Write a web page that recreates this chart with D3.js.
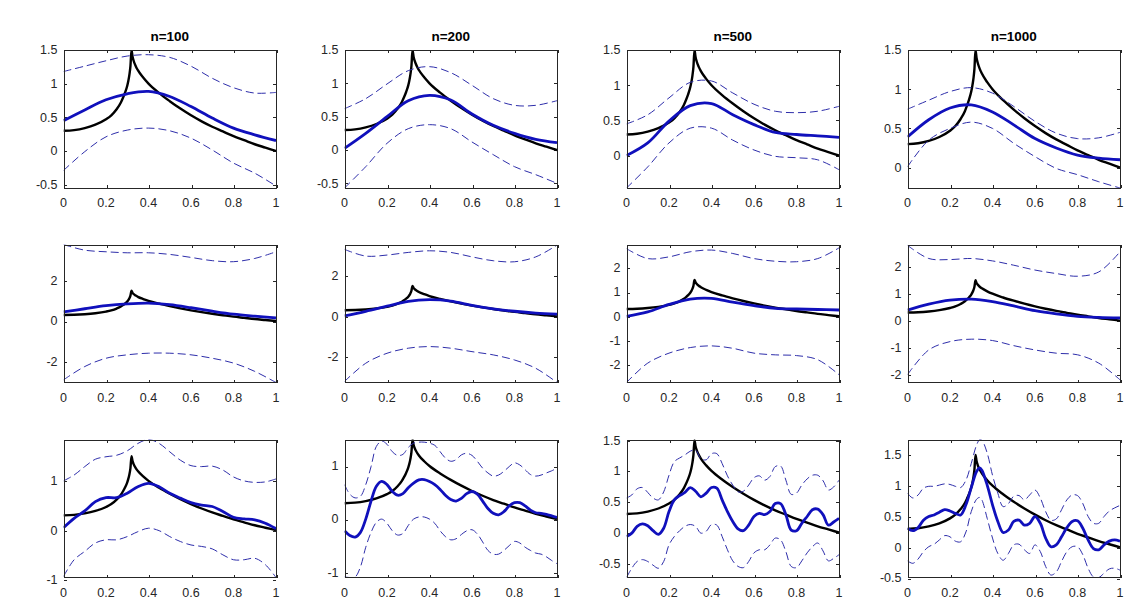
<!DOCTYPE html>
<html><head><meta charset="utf-8">
<script src="https://cdn.jsdelivr.net/npm/d3@7"></script>
<style>body{margin:0;background:#fff}svg{display:block}</style>
</head><body><svg id="c" width="1136" height="613"></svg>
<script>
// ---------------- data ----------------
const titles = ["n=100", "n=200", "n=500", "n=1000"];
const xTicks = [0, 0.2, 0.4, 0.6, 0.8, 1];
const xTickLabels = ["0", "0.2", "0.4", "0.6", "0.8", "1"];

// true function (black)
const xTruth = [0, 0.05, 0.1, 0.15, 0.2, 0.225, 0.25, 0.27, 0.28, 0.29, 0.3, 0.305, 0.31, 0.315, 0.32, 0.325, 0.33, 0.34, 0.35, 0.375, 0.4, 0.45, 0.5, 0.55, 0.6, 0.65, 0.7, 0.75, 0.8, 0.85, 0.9, 0.95, 1.0];
const fTruth = [0.30, 0.31, 0.34, 0.39, 0.47, 0.53, 0.62, 0.72, 0.79, 0.87, 0.97, 1.04, 1.13, 1.26, 1.50, 1.40, 1.34, 1.26, 1.20, 1.09, 1.00, 0.86, 0.74, 0.63, 0.53, 0.44, 0.36, 0.29, 0.22, 0.16, 0.10, 0.05, 0.0];

// rows 1-2: smooth estimates on a coarse grid
const xCoarse = [0, 0.1, 0.2, 0.3, 0.4, 0.5, 0.6, 0.7, 0.8, 0.9, 1.0];
const mean100 = [0.45, 0.61, 0.76, 0.85, 0.886, 0.81, 0.66, 0.49, 0.34, 0.24, 0.155];
const mean200 = [0.025, 0.25, 0.50, 0.74, 0.82, 0.75, 0.54, 0.37, 0.25, 0.16, 0.11];
const mean500 = [0.0, 0.18, 0.49, 0.71, 0.74, 0.58, 0.44, 0.33, 0.30, 0.28, 0.26];
const mean1000 = [0.39, 0.61, 0.76, 0.80, 0.71, 0.545, 0.37, 0.25, 0.16, 0.12, 0.10];

const up1_100 = [1.18, 1.26, 1.34, 1.41, 1.43, 1.39, 1.26, 1.08, 0.94, 0.86, 0.87];
const lo1_100 = [-0.29, -0.01, 0.21, 0.31, 0.34, 0.30, 0.19, 0.015, -0.18, -0.33, -0.52];
const up1_200 = [0.62, 0.77, 0.99, 1.19, 1.25, 1.16, 0.97, 0.77, 0.67, 0.67, 0.74];
const lo1_200 = [-0.57, -0.25, 0.10, 0.32, 0.38, 0.32, 0.12, -0.07, -0.25, -0.37, -0.50];
const up1_500 = [0.45, 0.58, 0.82, 1.04, 1.06, 0.89, 0.73, 0.63, 0.61, 0.63, 0.70];
const lo1_500 = [-0.46, -0.16, 0.18, 0.39, 0.39, 0.22, 0.08, -0.01, -0.03, -0.06, -0.20];
const up1_1000 = [0.745, 0.86, 0.97, 1.02, 0.95, 0.78, 0.59, 0.44, 0.37, 0.38, 0.45];
const lo1_1000 = [0.01, 0.35, 0.50, 0.58, 0.50, 0.31, 0.14, -0.01, -0.09, -0.18, -0.26];

const up2_100 = [3.79, 3.51, 3.43, 3.38, 3.38, 3.30, 3.15, 2.99, 2.94, 3.10, 3.43];
const lo2_100 = [-2.91, -2.25, -1.84, -1.67, -1.59, -1.59, -1.67, -1.84, -2.08, -2.49, -3.04];
const up2_200 = [3.30, 2.97, 3.02, 3.15, 3.23, 3.15, 2.93, 2.74, 2.69, 2.93, 3.51];
const lo2_200 = [-3.21, -2.31, -1.82, -1.57, -1.49, -1.57, -1.74, -1.90, -2.15, -2.56, -3.26];
const up2_500 = [2.79, 2.38, 2.45, 2.66, 2.73, 2.59, 2.38, 2.27, 2.25, 2.38, 2.82];
const lo2_500 = [-2.73, -1.93, -1.52, -1.29, -1.22, -1.32, -1.52, -1.59, -1.62, -1.79, -2.41];
const up2_1000 = [2.80, 2.31, 2.27, 2.31, 2.22, 2.06, 1.88, 1.75, 1.65, 1.81, 2.56];
const lo2_1000 = [-2.01, -1.09, -0.78, -0.69, -0.74, -0.93, -1.09, -1.21, -1.27, -1.58, -2.20];

// row 3: wiggly estimates
const xMid = [0, 0.05, 0.1, 0.15, 0.2, 0.25, 0.3, 0.35, 0.4, 0.45, 0.5, 0.55, 0.6, 0.65, 0.7, 0.75, 0.8, 0.85, 0.9, 0.95, 1.0];
const mean3_100 = [0.05, 0.24, 0.39, 0.58, 0.66, 0.66, 0.75, 0.88, 0.95, 0.88, 0.75, 0.65, 0.56, 0.51, 0.48, 0.38, 0.26, 0.23, 0.21, 0.14, 0.03];
const up3_100 = [1.0, 1.12, 1.29, 1.44, 1.49, 1.52, 1.61, 1.76, 1.84, 1.76, 1.59, 1.42, 1.31, 1.29, 1.30, 1.22, 1.08, 1.0, 0.97, 0.98, 1.04];
const lo3_100 = [-0.94, -0.60, -0.43, -0.26, -0.195, -0.195, -0.13, -0.03, 0.04, -0.01, -0.13, -0.23, -0.30, -0.33, -0.38, -0.50, -0.60, -0.60, -0.57, -0.70, -0.96];

const xFine = [0, 0.025, 0.05, 0.075, 0.1, 0.125, 0.15, 0.175, 0.2, 0.225, 0.25, 0.275, 0.3, 0.325, 0.35, 0.375, 0.4, 0.425, 0.45, 0.475, 0.5, 0.525, 0.55, 0.575, 0.6, 0.625, 0.65, 0.675, 0.7, 0.725, 0.75, 0.775, 0.8, 0.825, 0.85, 0.875, 0.9, 0.925, 0.95, 0.975, 1.0];
const mean3_200 = [-0.22, -0.31, -0.34, -0.25, 0, 0.34, 0.62, 0.71, 0.65, 0.52, 0.45, 0.48, 0.59, 0.68, 0.74, 0.745, 0.71, 0.65, 0.56, 0.45, 0.37, 0.34, 0.39, 0.48, 0.52, 0.47, 0.34, 0.20, 0.11, 0.08, 0.14, 0.25, 0.31, 0.31, 0.25, 0.17, 0.12, 0.11, 0.09, 0.06, 0.03];
const up3_200 = [0.65, 0.47, 0.40, 0.43, 0.65, 0.99, 1.37, 1.47, 1.41, 1.27, 1.20, 1.22, 1.35, 1.43, 1.45, 1.45, 1.43, 1.39, 1.27, 1.15, 1.09, 1.12, 1.21, 1.24, 1.20, 1.09, 0.96, 0.87, 0.81, 0.83, 0.90, 0.99, 1.06, 1.02, 0.93, 0.84, 0.81, 0.83, 0.87, 0.91, 0.96];
const lo3_200 = [-1.09, -1.10, -1.09, -0.90, -0.53, -0.25, -0.06, 0.0, -0.08, -0.22, -0.30, -0.27, -0.12, 0, 0.04, 0.04, 0, -0.08, -0.22, -0.33, -0.39, -0.37, -0.29, -0.22, -0.20, -0.28, -0.43, -0.59, -0.66, -0.66, -0.59, -0.50, -0.42, -0.45, -0.53, -0.59, -0.64, -0.66, -0.71, -0.78, -0.84];
const mean3_500 = [-0.065, -0.01, 0.10, 0.14, 0.11, 0.03, -0.03, 0.07, 0.34, 0.53, 0.60, 0.65, 0.73, 0.67, 0.58, 0.64, 0.73, 0.72, 0.53, 0.34, 0.18, 0.06, 0.03, 0.12, 0.26, 0.31, 0.29, 0.34, 0.47, 0.47, 0.29, 0.04, 0.03, 0.15, 0.26, 0.37, 0.38, 0.29, 0.12, 0.17, 0.23];
const up3_500 = [0.56, 0.61, 0.71, 0.73, 0.65, 0.56, 0.53, 0.66, 0.93, 1.15, 1.21, 1.26, 1.32, 1.34, 1.20, 1.18, 1.28, 1.28, 1.12, 0.92, 0.77, 0.66, 0.67, 0.77, 0.89, 0.92, 0.85, 0.91, 1.07, 1.08, 0.85, 0.62, 0.64, 0.77, 0.87, 0.93, 0.93, 0.84, 0.69, 0.74, 0.85];
const lo3_500 = [-0.73, -0.58, -0.47, -0.44, -0.47, -0.53, -0.58, -0.47, -0.20, -0.065, 0.03, 0.10, 0.13, 0.10, -0.01, 0.02, 0.13, 0.12, -0.065, -0.28, -0.46, -0.55, -0.57, -0.47, -0.33, -0.28, -0.28, -0.20, -0.09, -0.12, -0.31, -0.55, -0.57, -0.46, -0.33, -0.23, -0.17, -0.30, -0.46, -0.42, -0.36];

const xPeak = [0, 0.025, 0.05, 0.075, 0.1, 0.125, 0.15, 0.175, 0.2, 0.225, 0.25, 0.275, 0.3, 0.325, 0.34, 0.35, 0.375, 0.4, 0.425, 0.45, 0.475, 0.5, 0.525, 0.55, 0.575, 0.6, 0.625, 0.65, 0.675, 0.7, 0.725, 0.75, 0.775, 0.8, 0.825, 0.85, 0.875, 0.9, 0.925, 0.95, 0.975, 1.0];
const mean3_1000 = [0.31, 0.27, 0.32, 0.44, 0.50, 0.525, 0.57, 0.61, 0.59, 0.55, 0.525, 0.69, 0.97, 1.23, 1.29, 1.25, 1.01, 0.69, 0.42, 0.24, 0.28, 0.42, 0.44, 0.36, 0.39, 0.50, 0.39, 0.15, 0.01, 0.04, 0.17, 0.32, 0.42, 0.43, 0.31, 0.12, -0.02, -0.04, 0.04, 0.10, 0.12, 0.10];
const up3_1000 = [0.88, 0.80, 0.85, 0.96, 0.99, 0.99, 1.01, 1.03, 1.02, 0.99, 0.97, 1.09, 1.36, 1.66, 1.75, 1.74, 1.53, 1.17, 0.88, 0.66, 0.71, 0.83, 0.84, 0.77, 0.85, 0.93, 0.80, 0.58, 0.44, 0.46, 0.61, 0.77, 0.85, 0.84, 0.71, 0.50, 0.39, 0.39, 0.50, 0.59, 0.64, 0.68];
const lo3_1000 = [-0.22, -0.26, -0.19, -0.07, 0.01, 0.05, 0.12, 0.19, 0.17, 0.10, 0.09, 0.25, 0.58, 0.78, 0.81, 0.77, 0.47, 0.15, -0.10, -0.21, -0.10, 0.04, 0.05, -0.04, -0.10, 0.04, -0.07, -0.31, -0.45, -0.40, -0.23, -0.07, 0.01, 0.01, -0.12, -0.34, -0.48, -0.49, -0.42, -0.35, -0.34, -0.37];

// y-axis limits and tick labels per panel (row-major)
const yLims = [
  [-0.55, 1.5], [-0.57, 1.5], [-0.46, 1.5], [-0.26, 1.5],
  [-3.04, 3.79], [-3.26, 3.54], [-2.73, 2.96], [-2.30, 2.83],
  [-0.96, 1.84], [-1.10, 1.5], [-0.73, 1.51], [-0.49, 1.75]
];
const yTickSets = [
  ["-0.5", "0", "0.5", "1", "1.5"], ["-0.5", "0", "0.5", "1", "1.5"], ["0", "0.5", "1", "1.5"], ["0", "0.5", "1", "1.5"],
  ["-2", "0", "2"], ["-2", "0", "2"], ["-2", "-1", "0", "1", "2"], ["-2", "-1", "0", "1", "2"],
  ["-1", "0", "1"], ["-1", "0", "1"], ["-0.5", "0", "0.5", "1", "1.5"], ["-0.5", "0", "0.5", "1", "1.5"]
];

const panels = [
  {x: xCoarse, m: mean100, u: up1_100, l: lo1_100},
  {x: xCoarse, m: mean200, u: up1_200, l: lo1_200},
  {x: xCoarse, m: mean500, u: up1_500, l: lo1_500},
  {x: xCoarse, m: mean1000, u: up1_1000, l: lo1_1000},
  {x: xCoarse, m: mean100, u: up2_100, l: lo2_100},
  {x: xCoarse, m: mean200, u: up2_200, l: lo2_200},
  {x: xCoarse, m: mean500, u: up2_500, l: lo2_500},
  {x: xCoarse, m: mean1000, u: up2_1000, l: lo2_1000},
  {x: xMid, m: mean3_100, u: up3_100, l: lo3_100},
  {x: xFine, m: mean3_200, u: up3_200, l: lo3_200},
  {x: xFine, m: mean3_500, u: up3_500, l: lo3_500},
  {x: xPeak, m: mean3_1000, u: up3_1000, l: lo3_1000}
];

// ---------------- layout / drawing ----------------
const svg = d3.select("#c");
const colLeft = [63.5, 344.5, 626.5, 907.5];
const rowTop = [50, 244.5, 439.5];
const W = 212.5, H = 138;
const axisColor = "#262626";
const solidBlue = "#1010bc";
const dashBlue = "#2e2eaa";
const tickLen = 3;
const fontFam = "Arial, 'Liberation Sans', Helvetica, sans-serif";

panels.forEach((p, i) => {
  const r = Math.floor(i / 4), c = i % 4;
  const g = svg.append("g").attr("transform", `translate(${colLeft[c]},${rowTop[r]})`);
  const x = d3.scaleLinear().domain([0, 1]).range([0, W]);
  const y = d3.scaleLinear().domain(yLims[i]).range([H, 0]);
  const clipId = "clip" + i;
  g.append("clipPath").attr("id", clipId).append("rect").attr("x", 0).attr("y", 0).attr("width", W).attr("height", H);

  // axes (ticks inward on all four sides)
  const yVals = yTickSets[i].map(Number);
  const ax = g.append("g").attr("stroke", axisColor).attr("stroke-width", 1).attr("fill", "none").attr("shape-rendering", "crispEdges");
  xTicks.forEach(t => {
    const xp = Math.round(x(t)) + 0.5;
    ax.append("line").attr("x1", xp).attr("x2", xp).attr("y1", H).attr("y2", H - tickLen);
    ax.append("line").attr("x1", xp).attr("x2", xp).attr("y1", 0).attr("y2", tickLen);
  });
  yVals.forEach(t => {
    const yp = Math.round(y(t)) + 0.5;
    ax.append("line").attr("x1", 0).attr("x2", tickLen).attr("y1", yp).attr("y2", yp);
    ax.append("line").attr("x1", W).attr("x2", W - tickLen).attr("y1", yp).attr("y2", yp);
  });

  // tick labels
  const labG = g.append("g").attr("font-family", fontFam).attr("font-size", 12.5).attr("fill", axisColor);
  xTicks.forEach((t, k) => {
    labG.append("text").attr("x", x(t)).attr("y", H + 19).attr("text-anchor", "middle").text(xTickLabels[k]);
  });
  yTickSets[i].forEach((lab, k) => {
    labG.append("text").attr("x", -6).attr("y", y(yVals[k])).attr("dy", "0.35em").attr("text-anchor", "end").text(lab);
  });

  const lines = g.append("g").attr("clip-path", `url(#${clipId})`).attr("fill", "none");
  const lineGen = (xs, ys, curve) => d3.line().x((d, k) => x(xs[k])).y(d => y(d)).curve(curve)(ys);

  // true function
  lines.append("path").attr("d", lineGen(xTruth, fTruth, d3.curveMonotoneX))
    .attr("stroke", "#000").attr("stroke-width", 2.4).attr("stroke-linejoin", "round");
  // estimate
  lines.append("path").attr("d", lineGen(p.x, p.m, d3.curveCatmullRom.alpha(0.5)))
    .attr("stroke", solidBlue).attr("stroke-width", 2.8).attr("stroke-linejoin", "round");
  // bands
  [p.u, p.l].forEach(b => {
    lines.append("path").attr("d", lineGen(p.x, b, d3.curveCatmullRom.alpha(0.5)))
      .attr("stroke", dashBlue).attr("stroke-width", 1).attr("stroke-dasharray", "8,4");
  });

  // box
  g.append("rect").attr("x", 0.5).attr("y", 0.5).attr("width", W - 0.5).attr("height", H - 0.5)
    .attr("fill", "none").attr("stroke", axisColor).attr("stroke-width", 1).attr("shape-rendering", "crispEdges");

  if (r === 0) {
    g.append("text").attr("x", W / 2).attr("y", -9).attr("text-anchor", "middle")
      .attr("font-family", fontFam).attr("font-weight", "bold").attr("font-size", 13.5).attr("fill", "#000")
      .text(titles[c]);
  }
});
</script>
</body></html>
